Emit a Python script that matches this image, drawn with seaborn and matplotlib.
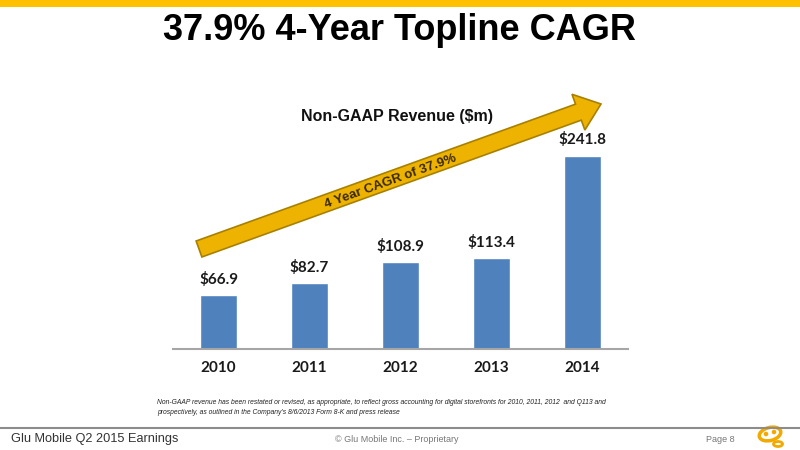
import matplotlib
matplotlib.use("Agg")
import matplotlib.pyplot as plt
import seaborn as sns
import pandas as pd
from matplotlib.patches import FancyArrow, Rectangle, Ellipse, Circle

years = ["2010", "2011", "2012", "2013", "2014"]
revenue = [66.9, 82.7, 108.9, 113.4, 241.8]
value_labels = ["$66.9", "$82.7", "$108.9", "$113.4", "$241.8"]

title = "37.9% 4-Year Topline CAGR"
chart_title = "Non-GAAP Revenue ($m)"
arrow_text = "4 Year CAGR of 37.9%"
footnote = ("Non-GAAP revenue has been restated or revised, as appropriate, to reflect gross accounting for digital storefronts for 2010, 2011, 2012  and Q113 and\n"
            "prospectively, as outlined in the Company\u2019s 8/6/2013 Form 8-K and press release")
footer_left = "Glu Mobile Q2 2015 Earnings"
footer_mid = "\u00a9 Glu Mobile Inc. \u2013 Proprietary"
footer_right = "Page 8"

sns.set_theme(style="white")
plt.rcParams['font.family'] = ['Liberation Sans', 'DejaVu Sans']

W, H = 800, 450
fig = plt.figure(figsize=(8, 4.5), dpi=100)
fig.patch.set_facecolor("white")

# overlay in pixel coordinates
ov = fig.add_axes([0, 0, 1, 1])
ov.set_xlim(0, W)
ov.set_ylim(H, 0)
ov.axis("off")

# bar axes
base_y = 349
ppu = 0.80
ymax = 300
ax_left, ax_right = 173, 628
ax = fig.add_axes([ax_left / W, 1 - base_y / H, (ax_right - ax_left) / W, ymax * ppu / H])
df = pd.DataFrame({"year": years, "revenue": revenue})
sns.barplot(data=df, x="year", y="revenue", color="#4F81BD", saturation=1, width=0.4, ax=ax)
ax.set_ylim(0, ymax)
ax.set_xlim(-0.5, 4.5)
ax.set_facecolor("none")
for s in ["top", "right", "left"]:
    ax.spines[s].set_visible(False)
ax.spines["bottom"].set_color("#A6A6A6")
ax.spines["bottom"].set_linewidth(1.5)
ax.set_yticks([])
ax.set_xlabel("")
ax.set_ylabel("")
ax.tick_params(axis="x", length=0, pad=9)
for lbl in ax.get_xticklabels():
    lbl.set_fontfamily("Lato")
    lbl.set_fontweight("bold")
    lbl.set_fontsize(11)
    lbl.set_color("#1a1a1a")
for i, (v, t) in enumerate(zip(revenue, value_labels)):
    ax.annotate(t, (i, v), xytext=(0, 6), textcoords="offset points",
                ha="center", va="bottom", fontsize=11, fontweight="bold",
                fontfamily="Lato", color="#1a1a1a")

# top band
ov.add_patch(Rectangle((0, 0), W, 7, color="#FFC000", lw=0))

# title
ov.text(399, 31, title, ha="center", va="center", fontsize=26, fontweight="bold",
        color="black")
ov.text(397, 116, chart_title, ha="center", va="center", fontsize=11.5, fontweight="bold",
        color="#111111")

# arrow
x0, y0 = 199, 249
x1, y1 = 601, 104
ov.add_patch(FancyArrow(x0, y0, x1 - x0, y1 - y0, width=17, head_width=38, head_length=24,
                        length_includes_head=True, facecolor="#EDB300", edgecolor="#A88000",
                        lw=1.2, zorder=3))
ov.text(390, 182, arrow_text, ha="center", va="center", rotation=19.8, rotation_mode="anchor",
        fontsize=9.5, fontweight="bold", color="#3a2a00", zorder=4)

# footnote
ov.text(157, 407, footnote, ha="left", va="center", fontsize=4.85, style="italic",
        color="#222222", linespacing=1.6)

# footer line
ov.plot([0, W], [428, 428], color="#8C8C8C", lw=1.5)
ov.text(11, 439, footer_left, ha="left", va="center", fontsize=9.2, color="#333333")
ov.text(397, 440, footer_mid, ha="center", va="center", fontsize=6.5, color="#777777")
ov.text(706, 440, footer_right, ha="left", va="center", fontsize=6.5, color="#777777")

# logo
ov.add_patch(Ellipse((770, 434), 22, 13, angle=-15, facecolor="none", edgecolor="#F2A900", lw=2.5))
ov.add_patch(Circle((766, 434), 1.6, color="#F2A900"))
ov.add_patch(Circle((774, 432), 1.6, color="#F2A900"))
ov.add_patch(Ellipse((778, 444), 9, 5, facecolor="none", edgecolor="#F2A900", lw=2))

fig.savefig("out.png", dpi=100)
